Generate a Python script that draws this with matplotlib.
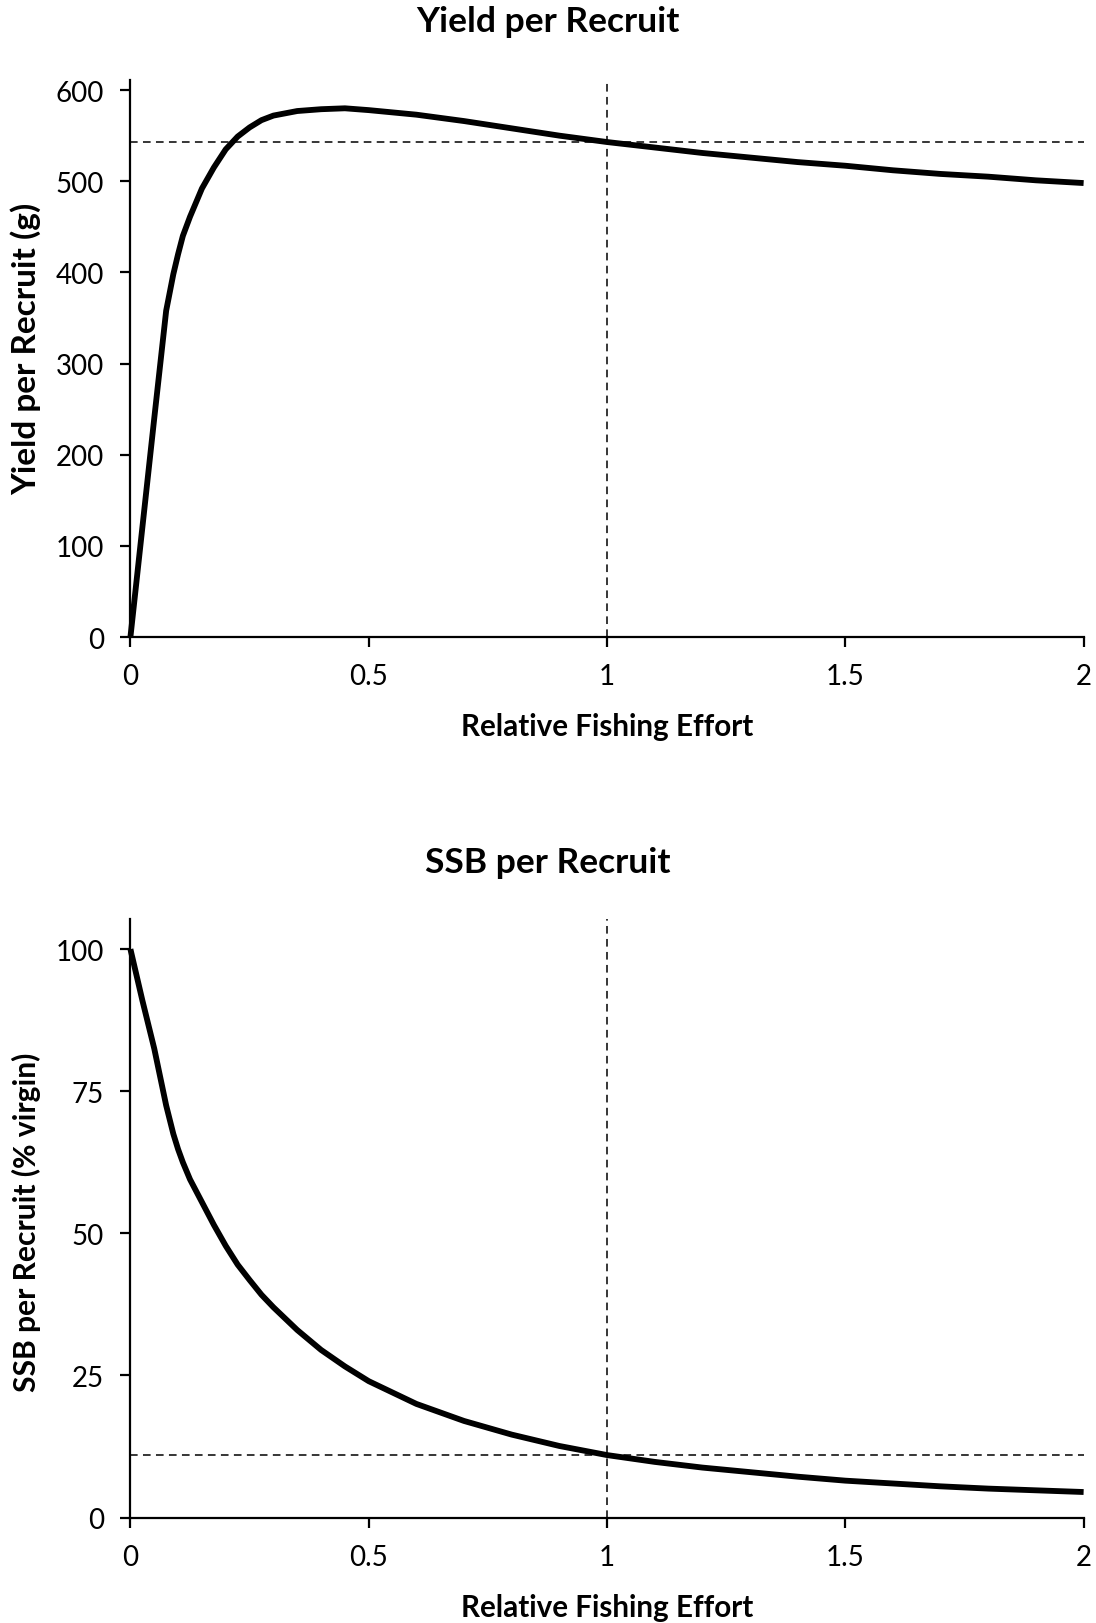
#Yield per recruit and SSB per recruit against relative fishing effort
import matplotlib
matplotlib.use("Agg")
import matplotlib.pyplot as plt

#font close to Calibri
plt.rcParams['font.family'] = ['Lato', 'DejaVu Sans']

#relative fishing effort (x values)
effort = [0, 0.025, 0.05, 0.075, 0.09, 0.1, 0.11, 0.125, 0.15, 0.175, 0.2, 0.225, 0.25, 0.275, 0.3, 0.35,
          0.4, 0.45, 0.5, 0.6, 0.7, 0.8, 0.9, 1.0, 1.1, 1.2, 1.3, 1.4, 1.5, 1.6, 1.7, 1.8, 1.9, 2.0]

#yield per recruit (g)
ypr = [0, 120, 240, 358, 398, 420, 440, 461, 492, 515, 535, 549, 559, 567, 572, 577,
       579, 580, 578, 573, 566, 558, 550, 543, 537, 531, 526, 521, 517, 512, 508, 505, 501, 498]

#SSB per recruit (% virgin)
ssb = [100, 91, 82.5, 72.5, 67.5, 64.8, 62.5, 59.5, 55.5, 51.5, 47.8, 44.5, 41.8, 39.2, 37, 33,
       29.5, 26.6, 24, 20, 17, 14.6, 12.6, 11, 9.8, 8.8, 8.0, 7.2, 6.5, 6.0, 5.5, 5.1, 4.8, 4.5]

#reference values at effort = 1
ypr_ref = 543
ssb_ref = 11

fig = plt.figure(figsize=(10.96, 16.24), dpi=100)
ax1 = fig.add_axes([0.119, 0.6071, 0.8697, 0.343])
ax2 = fig.add_axes([0.119, 0.0649, 0.8697, 0.3686])

def style_axes(ax, ymax, yticks):
    ax.set_xlim(0, 2)
    ax.set_ylim(0, ymax)
    ax.set_xticks([0, 0.5, 1, 1.5, 2])
    ax.set_xticklabels(["0", "0.5", "1", "1.5", "2"])
    ax.set_yticks(yticks)
    ax.spines["top"].set_visible(False)
    ax.spines["right"].set_visible(False)
    ax.spines["left"].set_linewidth(1.6)
    ax.spines["bottom"].set_linewidth(1.6)
    ax.tick_params(axis="both", direction="out", length=7, width=1.6, labelsize=20, pad=12)

dash = (0, (5, 3.5))

#top chart: yield per recruit
ax1.plot(effort, ypr, color="black", linewidth=4.2, solid_joinstyle="round",
         solid_capstyle="butt", clip_on=False, zorder=3)
ax1.axhline(ypr_ref, color="black", linewidth=1.1, linestyle=dash)
ax1.axvline(1, color="black", linewidth=1.1, linestyle=dash)
style_axes(ax1, 611, [0, 100, 200, 300, 400, 500, 600])

#bottom chart: SSB per recruit
ax2.plot(effort, ssb, color="black", linewidth=4.2, solid_joinstyle="round",
         solid_capstyle="butt", clip_on=False, zorder=3)
ax2.axhline(ssb_ref, color="black", linewidth=1.1, linestyle=dash)
ax2.axvline(1, color="black", linewidth=1.1, linestyle=dash)
style_axes(ax2, 105.3, [0, 25, 50, 75, 100])

#titles and axis labels
fig.text(0.5, 0.9865, "Yield per Recruit", ha="center", va="center", fontsize=25.5, fontweight="bold")
fig.text(0.5, 0.4686, "SSB per Recruit", ha="center", va="center", fontsize=25.5, fontweight="bold")
fig.text(0.5537, 0.5523, "Relative Fishing Effort", ha="center", va="center", fontsize=21.3, fontweight="bold")
fig.text(0.5537, 0.0099, "Relative Fishing Effort", ha="center", va="center", fontsize=21.3, fontweight="bold")
fig.text(0.0237, 0.7854, "Yield per Recruit (g)", ha="center", va="center", rotation=90, fontsize=24, fontweight="bold")
fig.text(0.0237, 0.2475, "SSB per Recruit (% virgin)", ha="center", va="center", rotation=90, fontsize=21.6, fontweight="bold")

fig.savefig("out.png", dpi=100)
